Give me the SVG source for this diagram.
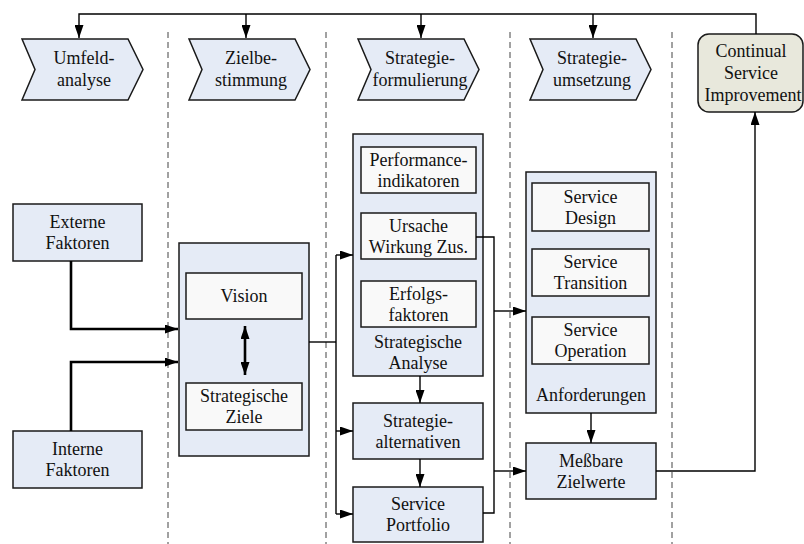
<svg xmlns="http://www.w3.org/2000/svg" width="804" height="544" viewBox="0 0 804 544">
  <style>
    .phase { fill: #e5ebf6; stroke: #1a1a1a; stroke-width: 1.5; }
    .box { fill: #e5ebf6; stroke: #1a1a1a; stroke-width: 1.5; }
    .inner { fill: #f9f9f9; stroke: #1a1a1a; stroke-width: 1.5; }
    .csi { fill: #e8e8dc; stroke: #1a1a1a; stroke-width: 1.5; }
    .sep { stroke: #444; stroke-width: 1; stroke-dasharray: 6 4; fill: none; }
    .conn { stroke: #000; stroke-width: 1.4; fill: none; }
    .thick { stroke: #000; stroke-width: 2.6; fill: none; }
    .arr { marker-end: url(#head); }
    .lbl text { font-size: 18px; fill: #111; text-anchor: middle; }
  </style>
  <defs>
    <marker id="head" viewBox="0 0 13 9" refX="13" refY="4.5" markerUnits="userSpaceOnUse" markerWidth="13" markerHeight="9" orient="auto-start-reverse">
      <path d="M0,0 L13,4.5 L0,9 Z" fill="#000"/>
    </marker>
  </defs>

  <rect width="804" height="544" fill="#fff"/>

  <!-- phase separators -->
  <g id="separators">
    <line class="sep" x1="168" y1="32" x2="168" y2="544"/>
    <line class="sep" x1="326" y1="32" x2="326" y2="544"/>
    <line class="sep" x1="510" y1="32" x2="510" y2="544"/>
    <line class="sep" x1="672" y1="32" x2="672" y2="544"/>
  </g>

  <g class="lbl" font-family="'Liberation Serif', Tinos, 'Times New Roman', 'DejaVu Serif', serif">
  <!-- phase chevrons -->
  <g id="umfeldanalyse">
    <polygon class="phase" points="22,39 128,39 143,69.5 128,100 22,100 35,69.5"/>
    <text x="84" y="64">Umfeld-</text>
    <text x="84" y="86">analyse</text>
  </g>
  <g id="zielbestimmung">
    <polygon class="phase" points="189,39 295,39 310,69.5 295,100 189,100 202,69.5"/>
    <text x="251" y="64">Zielbe-</text>
    <text x="251" y="86">stimmung</text>
  </g>
  <g id="strategieformulierung">
    <polygon class="phase" points="358,39 464,39 479,69.5 464,100 358,100 371,69.5"/>
    <text x="420" y="64">Strategie-</text>
    <text x="420" y="86">formulierung</text>
  </g>
  <g id="strategieumsetzung">
    <polygon class="phase" points="530,39 636,39 651,69.5 636,100 530,100 543,69.5"/>
    <text x="592" y="64">Strategie-</text>
    <text x="592" y="86">umsetzung</text>
  </g>
  <g id="csi">
    <rect class="csi" x="698" y="34" width="105" height="78" rx="11"/>
    <text x="751" y="57">Continual</text>
    <text x="751" y="79">Service</text>
    <text x="753" y="101">Improvement</text>
  </g>

  <!-- environment factors -->
  <g id="externe-faktoren">
    <rect class="box" x="13" y="204" width="129" height="57"/>
    <text x="77.5" y="228">Externe</text>
    <text x="77.5" y="249">Faktoren</text>
  </g>
  <g id="interne-faktoren">
    <rect class="box" x="13" y="431" width="129" height="57"/>
    <text x="77.5" y="455">Interne</text>
    <text x="77.5" y="476">Faktoren</text>
  </g>

  <!-- goal setting -->
  <g id="ziele-container">
    <rect class="box" x="179" y="243" width="130" height="213"/>
  </g>
  <g id="vision">
    <rect class="inner" x="186" y="273" width="116" height="46"/>
    <text x="244" y="302">Vision</text>
  </g>
  <g id="strategische-ziele">
    <rect class="inner" x="186" y="383" width="116" height="47"/>
    <text x="244" y="402">Strategische</text>
    <text x="244" y="423">Ziele</text>
  </g>

  <!-- strategy formulation -->
  <g id="strategische-analyse">
    <rect class="box" x="353" y="134" width="130" height="242"/>
    <text x="418" y="348">Strategische</text>
    <text x="418" y="369">Analyse</text>
  </g>
  <g id="performanceindikatoren">
    <rect class="inner" x="361" y="147" width="115" height="46"/>
    <text x="418.5" y="165.5">Performance-</text>
    <text x="418.5" y="186.5">indikatoren</text>
  </g>
  <g id="ursache-wirkung">
    <rect class="inner" x="361" y="213" width="115" height="46"/>
    <text x="418.5" y="231.5">Ursache</text>
    <text x="418.5" y="252.5">Wirkung Zus.</text>
  </g>
  <g id="erfolgsfaktoren">
    <rect class="inner" x="361" y="281" width="115" height="46"/>
    <text x="418.5" y="299.5">Erfolgs-</text>
    <text x="418.5" y="320.5">faktoren</text>
  </g>
  <g id="strategiealternativen">
    <rect class="box" x="353" y="403" width="130" height="56"/>
    <text x="418" y="426.5">Strategie-</text>
    <text x="418" y="447.5">alternativen</text>
  </g>
  <g id="service-portfolio">
    <rect class="box" x="353" y="487" width="130" height="55"/>
    <text x="418" y="510">Service</text>
    <text x="418" y="531">Portfolio</text>
  </g>

  <!-- strategy implementation -->
  <g id="anforderungen">
    <rect class="box" x="526" y="172" width="130" height="241"/>
    <text x="591" y="401">Anforderungen</text>
  </g>
  <g id="service-design">
    <rect class="inner" x="532" y="183" width="117" height="48"/>
    <text x="590.5" y="202.5">Service</text>
    <text x="590.5" y="223.5">Design</text>
  </g>
  <g id="service-transition">
    <rect class="inner" x="532" y="249" width="117" height="47"/>
    <text x="590.5" y="268">Service</text>
    <text x="590.5" y="289">Transition</text>
  </g>
  <g id="service-operation">
    <rect class="inner" x="532" y="317" width="117" height="47"/>
    <text x="590.5" y="336">Service</text>
    <text x="590.5" y="357">Operation</text>
  </g>
  <g id="messbare-zielwerte">
    <rect class="box" x="526" y="443" width="130" height="56"/>
    <text x="591" y="466.5">Meßbare</text>
    <text x="591" y="487.5">Zielwerte</text>
  </g>
  </g>

  <!-- connectors -->
  <g id="connectors">
    <path class="conn arr" d="M756,34 V14 H79 V38"/>
    <path class="conn arr" d="M246,14 V38"/>
    <path class="conn arr" d="M421,14 V38"/>
    <path class="conn arr" d="M593,14 V38"/>

    <path class="thick arr" d="M71,261 V329 H178"/>
    <path class="thick arr" d="M71,431 V362 H178"/>

    <path class="thick" d="M245,326 V375" marker-start="url(#head)" marker-end="url(#head)"/>

    <path class="conn" d="M309,342 H336"/>
    <path class="conn" d="M336,255 V514"/>
    <path class="conn arr" d="M336,255 H353"/>
    <path class="conn arr" d="M336,431 H353"/>
    <path class="conn arr" d="M336,514 H353"/>

    <path class="conn arr" d="M420,376 V403"/>
    <path class="conn arr" d="M420,459 V487"/>

    <path class="conn" d="M476,237 H494 V513 H483"/>
    <path class="conn arr" d="M494,311 H526"/>
    <path class="conn arr" d="M494,471 H526"/>

    <path class="conn arr" d="M591,413 V443"/>
    <path class="conn arr" d="M656,471 H755 V112"/>
  </g>
</svg>
